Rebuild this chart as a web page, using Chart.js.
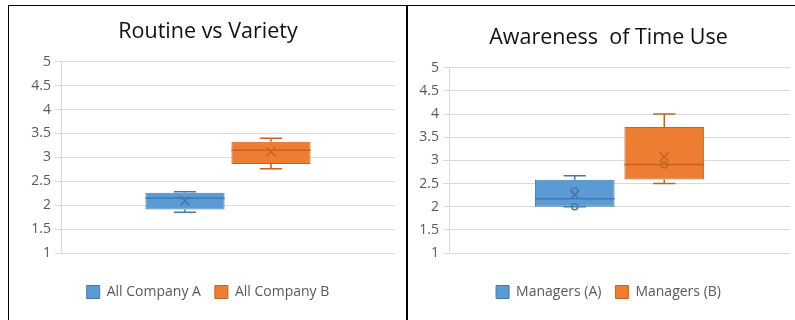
<!DOCTYPE html>
<html>
<head>
<meta charset="utf-8">
<script src="https://cdn.jsdelivr.net/npm/chart.js@4.4.1/dist/chart.umd.min.js"></script>
<style>
  body { margin: 0; width: 795px; height: 320px; background: #fff; position: relative; overflow: hidden; }
  .line { position: absolute; background: #000; }
  canvas { position: absolute; top: 7px; }
</style>
</head>
<body>
<div class="line" style="left:8px;top:5px;width:787px;height:1px"></div>
<div class="line" style="left:8px;top:5px;width:1px;height:315px"></div>
<div class="line" style="left:406px;top:5px;width:2px;height:315px"></div>
<canvas id="routineChart" width="397" height="313" style="left:9px"></canvas>
<canvas id="awarenessChart" width="386" height="313" style="left:409px"></canvas>
<script>
// y axis
const yTicks = [1, 1.5, 2, 2.5, 3, 3.5, 4, 4.5, 5];
const yTickLabels = ['1', '1.5', '2', '2.5', '3', '3.5', '4', '4.5', '5'];

// Routine vs Variety
const routineGroups = ['All Company A', 'All Company B'];
const routineMin = [1.85, 2.76];
const routineQ1 = [1.91, 2.86];
const routineMedian = [2.15, 3.15];
const routineQ3 = [2.26, 3.33];
const routineMax = [2.28, 3.40];
const routineMean = [2.09, 3.12];
const routinePoints = [[], []];

// Awareness of Time Use
const awareGroups = ['Managers (A)', 'Managers (B)'];
const awareMin = [2.0, 2.5];
const awareQ1 = [2.0, 2.59];
const awareMedian = [2.17, 2.91];
const awareQ3 = [2.58, 3.72];
const awareMax = [2.67, 4.0];
const awareMean = [2.26, 3.08];
const awarePoints = [[2.0, 2.34], [2.9]];

const fills = ['#5B9BD5', '#ED7D31'];
const edges = ['#4379AD', '#C8621F'];

Chart.defaults.font.family = "'Open Sans', sans-serif";

// median, whiskers, mean cross and inner points on top of the floating bars
const boxDetails = {
  id: 'boxDetails',
  afterLayout(chart) {
    // let the y tick labels run into the left padding without being clipped
    chart.scales.y.left = 0;
  },
  afterDatasetsDraw(chart) {
    const ctx = chart.ctx;
    const y = chart.scales.y;
    chart.data.datasets.forEach((ds, i) => {
      const bar = chart.getDatasetMeta(i).data[0];
      const s = ds.stats;
      const cx = bar.x;
      const half = bar.width / 2;
      const cap = bar.width * 0.14;
      const py = v => y.getPixelForValue(v);
      ctx.save();
      ctx.strokeStyle = ds.borderColor;
      ctx.lineWidth = 1.5;
      ctx.beginPath();
      // median
      ctx.moveTo(cx - half, py(s.median)); ctx.lineTo(cx + half, py(s.median));
      // whiskers
      ctx.moveTo(cx, py(s.q3)); ctx.lineTo(cx, py(s.max));
      ctx.moveTo(cx - cap, py(s.max)); ctx.lineTo(cx + cap, py(s.max));
      ctx.moveTo(cx, py(s.q1)); ctx.lineTo(cx, py(s.min));
      ctx.moveTo(cx - cap, py(s.min)); ctx.lineTo(cx + cap, py(s.min));
      // mean
      const m = py(s.mean), r = 4.5;
      ctx.moveTo(cx - r, m - r); ctx.lineTo(cx + r, m + r);
      ctx.moveTo(cx + r, m - r); ctx.lineTo(cx - r, m + r);
      ctx.stroke();
      s.points.forEach(p => {
        ctx.beginPath();
        ctx.arc(cx, py(p), 3, 0, Math.PI * 2);
        ctx.stroke();
      });
      ctx.restore();
    });
  }
};

function makeDatasets(groups, mins, q1s, medians, q3s, maxs, means, points) {
  return groups.map((g, i) => ({
    label: g,
    data: [[q1s[i], q3s[i]]],
    backgroundColor: fills[i],
    borderColor: edges[i],
    borderWidth: 1,
    borderSkipped: false,
    stats: { min: mins[i], q1: q1s[i], median: medians[i], q3: q3s[i], max: maxs[i], mean: means[i], points: points[i] }
  }));
}

function makeChart(el, title, datasets, opt) {
  return new Chart(document.getElementById(el), {
    type: 'bar',
    data: { labels: [''], datasets: datasets },
    plugins: [boxDetails],
    options: {
      responsive: false,
      animation: false,
      categoryPercentage: opt.cat,
      barPercentage: opt.bar,
      layout: { padding: { left: opt.padLeft, right: opt.padRight, top: 0, bottom: 11 } },
      plugins: {
        tooltip: { enabled: false },
        title: {
          display: true,
          text: title,
          color: '#111',
          font: { size: 21.5, weight: 'normal' },
          padding: { top: opt.titleTop, bottom: 17 }
        },
        legend: {
          position: 'bottom',
          labels: {
            color: '#595959',
            font: { size: 14 },
            boxWidth: 13,
            boxHeight: 13,
            padding: 14
          }
        }
      },
      scales: {
        x: {
          grid: { display: false },
          border: { display: false },
          ticks: { display: false },
          afterFit: s => { s.height = 18; }
        },
        y: {
          min: 1,
          max: 5,
          afterFit: s => { s.width = opt.axisWidth; },
          afterBuildTicks: s => { s.ticks = yTicks.map(v => ({ value: v })); },
          grid: { color: '#D9D9D9', tickLength: 6 },
          border: { color: '#D9D9D9' },
          ticks: {
            color: '#595959',
            font: { size: 14 },
            padding: 4,
            callback: v => yTickLabels[yTicks.indexOf(v)]
          }
        }
      }
    }
  });
}

makeChart('routineChart', 'Routine vs Variety',
  makeDatasets(routineGroups, routineMin, routineQ1, routineMedian, routineQ3, routineMax, routineMean, routinePoints),
  { cat: 0.515, bar: 0.92, padLeft: 12, padRight: 11, axisWidth: 40, titleTop: 12 });

makeChart('awarenessChart', 'Awareness  of Time Use',
  makeDatasets(awareGroups, awareMin, awareQ1, awareMedian, awareQ3, awareMax, awareMean, awarePoints),
  { cat: 0.525, bar: 0.89, padLeft: 18, padRight: 5, axisWidth: 22, titleTop: 18 });
</script>
</body>
</html>
